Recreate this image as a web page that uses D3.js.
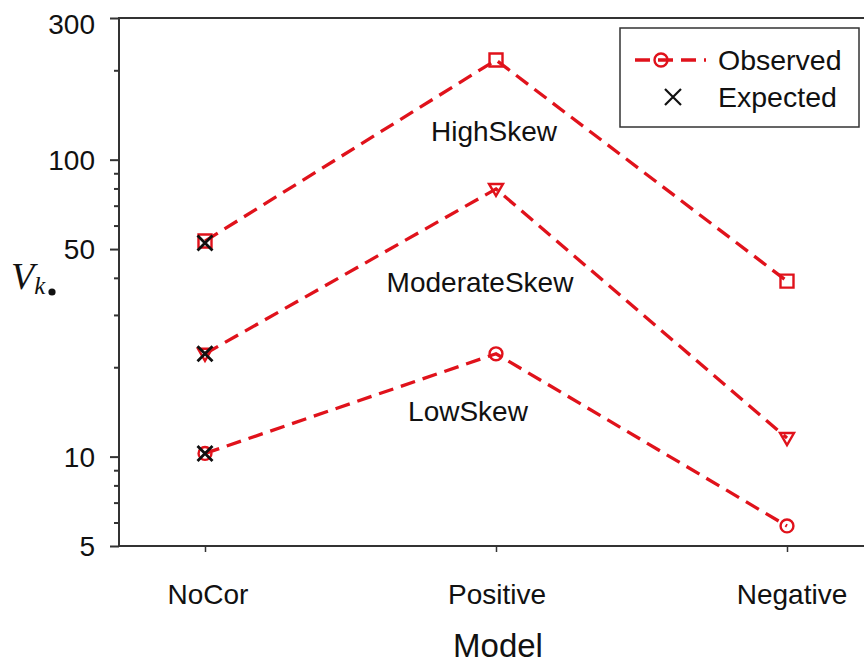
<!DOCTYPE html>
<html><head><meta charset="utf-8">
<script src="https://cdn.jsdelivr.net/npm/d3@7"></script>
<style>body{margin:0;background:#fff}svg{display:block}</style>
</head><body><svg id="c" width="864" height="668"></svg>
<script>
const models = ["NoCor", "Positive", "Negative"];
const groups = ["HighSkew", "ModerateSkew", "LowSkew"];
const groupSymbols = ["square", "triangle", "circle"];
const observedHigh = [53.2, 216.6, 39.0];
const observedModerate = [22.2, 79.7, 11.55];
const observedLow = [10.25, 22.2, 5.84];
const expectedNoCor = [52.4, 22.2, 10.25];
const yMajorTicks = [5, 10, 50, 100, 300];
const yMinorTicks = [6, 7, 8, 9, 20, 30, 40, 60, 70, 80, 90, 200];
const groupLabelPos = [[494, 141], [480, 292], [468, 421]];

const svg = d3.select("#c");
const L = 119, R = 870, T = 18, B = 546;
const x = d3.scalePoint().domain(models).range([205, 787]);
const y = d3.scaleLog().domain([5, 300]).range([B, T]);
const red = "#e0121b";
const font = "Liberation Sans, Arial, sans-serif";

function txt(parent, px, py, s, size, anchor) {
  return parent.append("text").attr("x", px).attr("y", py)
    .attr("text-anchor", anchor || "start").attr("font-family", font)
    .attr("font-size", size).attr("fill", "#111").text(s);
}

// frame
svg.append("rect").attr("x", L).attr("y", T).attr("width", R - L).attr("height", B - T)
  .attr("fill", "none").attr("stroke", "#333").attr("stroke-width", 2);

// y axis
const yAx = svg.append("g").attr("transform", `translate(${L},0)`)
  .call(d3.axisLeft(y).tickValues(yMajorTicks).tickFormat("").tickSize(9));
yAx.select(".domain").remove();
yAx.selectAll("line").attr("stroke", "#333").attr("stroke-width", 2);
const yMin = svg.append("g").attr("transform", `translate(${L},0)`)
  .call(d3.axisLeft(y).tickValues(yMinorTicks).tickFormat("").tickSize(5));
yMin.select(".domain").remove();
yMin.selectAll("line").attr("stroke", "#333").attr("stroke-width", 2);
yMajorTicks.forEach(d => {
  txt(svg, 95, Math.max(y(d), T + 6) + 10, d3.format("d")(d), 28, "end");
});

// x axis
const xAx = svg.append("g").attr("transform", `translate(0,${B})`)
  .call(d3.axisBottom(x).tickSize(6).tickFormat(""));
xAx.select(".domain").remove();
xAx.selectAll("line").attr("stroke", "#333").attr("stroke-width", 1.5);
models.forEach((m, i) => {
  txt(svg, x(m) + [3, 1, 5][i], 604, m, 28, "middle");
});

// axis titles
txt(svg, 498, 657, "Model", 33, "middle");
const vt = svg.append("text").attr("x", 11).attr("y", 289)
  .attr("font-family", "Liberation Serif, DejaVu Serif, serif").attr("font-style", "italic").attr("fill", "#111");
vt.append("tspan").attr("font-size", 38).text("V");
vt.append("tspan").attr("font-size", 25).attr("dy", 5).text("k");
svg.append("circle").attr("cx", 52).attr("cy", 292).attr("r", 3.6).attr("fill", "#111");

// series
const series = [observedHigh, observedModerate, observedLow];
const line = d3.line().x((d, i) => x(models[i])).y(d => y(d));
series.forEach((vals, gi) => {
  svg.append("path").datum(vals).attr("d", line).attr("fill", "none")
    .attr("stroke", red).attr("stroke-width", 3.3).attr("stroke-dasharray", "15,8");
  vals.forEach((v, i) => {
    const s = groupSymbols[gi];
    let p;
    if (s === "triangle") p = "M-7,-5L7,-5L0,7Z";
    else if (s === "square") p = "M-6.5,-6.5L6.5,-6.5L6.5,6.5L-6.5,6.5Z";
    else p = d3.symbol(d3.symbolCircle, 130)();
    svg.append("path").attr("d", p)
      .attr("transform", `translate(${x(models[i])},${y(v)})`)
      .attr("fill", "none").attr("stroke", red).attr("stroke-width", 2.4);
  });
  txt(svg, groupLabelPos[gi][0], groupLabelPos[gi][1], groups[gi], 28, "middle");
});

// expected crosses
expectedNoCor.forEach(v => {
  svg.append("path").attr("d", "M-7.5,-7.5L7.5,7.5M-7.5,7.5L7.5,-7.5")
    .attr("transform", `translate(${x("NoCor")},${y(v)})`)
    .attr("stroke", "#111").attr("stroke-width", 2.8).attr("fill", "none");
});

// legend
const lg = svg.append("g");
lg.append("rect").attr("x", 620).attr("y", 28).attr("width", 239).attr("height", 99)
  .attr("fill", "#fff").attr("stroke", "#333").attr("stroke-width", 1.5);
lg.append("path").attr("d", "M635,60L706,60").attr("stroke", red).attr("stroke-width", 3.3)
  .attr("stroke-dasharray", "15,8").attr("fill", "none");
lg.append("circle").attr("cx", 661).attr("cy", 60).attr("r", 6.5).attr("fill", "none")
  .attr("stroke", red).attr("stroke-width", 2.4);
lg.append("path").attr("d", "M-8,-8L8,8M-8,8L8,-8").attr("transform", "translate(673,97)")
  .attr("stroke", "#111").attr("stroke-width", 2.2).attr("fill", "none");
txt(lg, 718, 70, "Observed", 28.5, "start");
txt(lg, 718, 107, "Expected", 28.5, "start");
</script></body></html>
